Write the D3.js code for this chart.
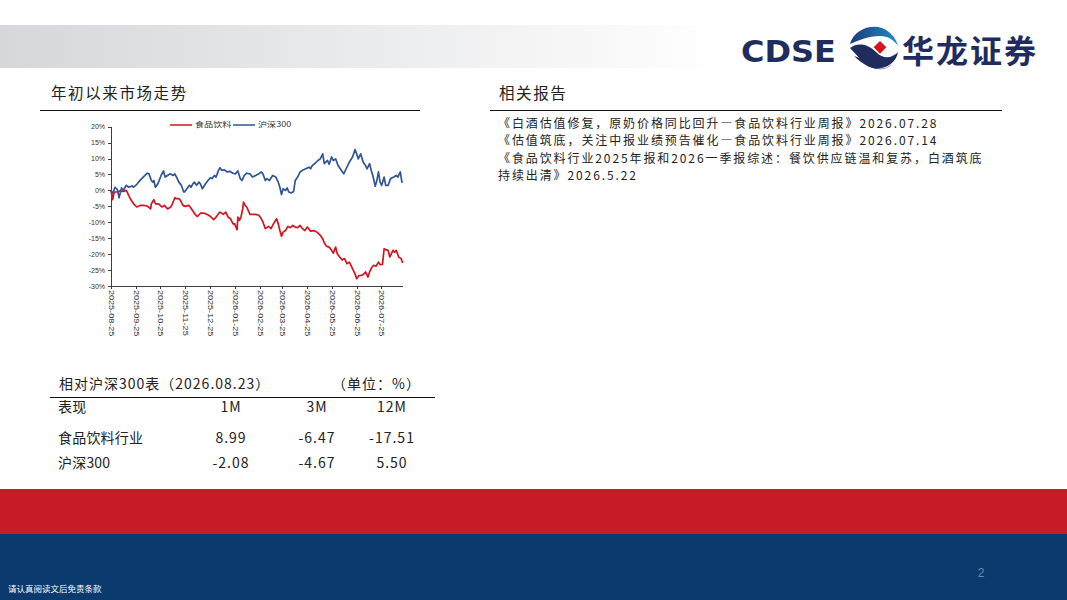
<!DOCTYPE html>
<html lang="zh">
<head>
<meta charset="utf-8">
<title>食品饮料行业 市场走势</title>
<style>
  body { margin: 0; background: #fff; }
  svg { display: block; font-family: "Noto Sans CJK SC", "Noto Sans", sans-serif; }
  .axis path, .axis line { stroke: #404040; stroke-width: 1; shape-rendering: crispEdges; }
  .axis text { fill: #333; font-family: "Liberation Sans", Arial, sans-serif; font-size: 7px; }
  .series { fill: none; stroke-width: 1.7; stroke-linejoin: round; }
</style>
</head>
<body>
<div id="page"></div>
<script src="https://d3js.org/d3.v7.min.js"></script>
<script>
// ---- data ----
var xTickDates = ["2025-08-25","2025-09-25","2025-10-25","2025-11-25","2025-12-25","2026-01-25",
                  "2026-02-25","2026-03-25","2026-04-25","2026-05-25","2026-06-25","2026-07-25"];
var yTicks = [20, 15, 10, 5, 0, -5, -10, -15, -20, -25, -30];
var seriesNames = ["食品饮料", "沪深300"];
var seriesColors = ["#d7141e", "#2f5597"];

// 食品饮料 relative performance (%)
var food = [
  ["2025-08-25",0],["2025-08-27",-2.9],["2025-08-29",-0.5],["2025-09-01",-0.5],["2025-09-05",-0.2],
  ["2025-09-09",-0.3],["2025-09-13",0],["2025-09-16",-1.6],["2025-09-19",-3.1],["2025-09-22",-4.2],
  ["2025-09-26",-5.2],["2025-09-30",-4.7],["2025-10-04",-4.7],["2025-10-09",-4.9],["2025-10-13",-5.8],
  ["2025-10-14",-4.2],["2025-10-17",-2.9],["2025-10-19",-4.2],["2025-10-23",-4.2],["2025-10-27",-5.2],
  ["2025-10-30",-4.7],["2025-11-03",-5.8],["2025-11-07",-5.2],["2025-11-09",-4.2],["2025-11-12",-2.3],
  ["2025-11-14",-2.6],["2025-11-17",-2.6],["2025-11-19",-3.1],["2025-11-22",-4.7],["2025-11-25",-5.0],
  ["2025-11-29",-4.7],["2025-12-01",-5.2],["2025-12-04",-6.3],["2025-12-07",-7.5],["2025-12-10",-8.2],
  ["2025-12-14",-7.1],["2025-12-17",-7.1],["2025-12-20",-7.3],["2025-12-24",-7.8],["2025-12-27",-8.4],
  ["2025-12-30",-9.2],["2026-01-02",-8.4],["2026-01-05",-7.3],["2026-01-07",-6.8],["2026-01-11",-7.5],
  ["2026-01-14",-6.8],["2026-01-17",-8.4],["2026-01-20",-8.9],["2026-01-23",-10.5],["2026-01-25",-10.5],
  ["2026-01-28",-12.3],["2026-01-29",-8.4],["2026-01-31",-9.4],["2026-02-02",-8.2],["2026-02-04",-5.8],
  ["2026-02-05",-3.7],["2026-02-07",-4.7],["2026-02-09",-5.2],["2026-02-13",-7.5],["2026-02-16",-7.5],
  ["2026-02-20",-7.5],["2026-02-24",-7.8],["2026-02-27",-8.9],["2026-03-01",-9.9],["2026-03-04",-12.0],
  ["2026-03-08",-11.3],["2026-03-11",-12.0],["2026-03-14",-10.5],["2026-03-18",-8.9],["2026-03-20",-10.5],
  ["2026-03-22",-12.6],["2026-03-24",-14.4],["2026-03-26",-13.1],["2026-03-29",-12.6],["2026-04-01",-11.3],
  ["2026-04-04",-11.7],["2026-04-07",-11.0],["2026-04-10",-11.5],["2026-04-13",-11.7],["2026-04-16",-11.0],
  ["2026-04-19",-12.0],["2026-04-22",-12.6],["2026-04-25",-11.5],["2026-04-29",-12.8],["2026-05-03",-12.6],
  ["2026-05-07",-13.1],["2026-05-11",-14.1],["2026-05-14",-15.2],["2026-05-16",-16.5],["2026-05-19",-17.6],
  ["2026-05-22",-17.8],["2026-05-25",-18.8],["2026-05-27",-19.7],["2026-05-30",-17.8],["2026-06-01",-19.9],
  ["2026-06-04",-20.9],["2026-06-07",-21.8],["2026-06-10",-21.4],["2026-06-13",-23.0],["2026-06-16",-22.5],
  ["2026-06-19",-24.1],["2026-06-23",-26.2],["2026-06-25",-27.7],["2026-06-28",-26.7],["2026-07-01",-26.7],
  ["2026-07-04",-26.2],["2026-07-06",-25.6],["2026-07-09",-27.2],["2026-07-11",-25.6],["2026-07-14",-24.1],
  ["2026-07-16",-23.5],["2026-07-19",-23.8],["2026-07-22",-22.5],["2026-07-24",-23.3],["2026-07-27",-23.2],
  ["2026-07-29",-18.3],["2026-07-31",-18.6],["2026-08-03",-18.8],["2026-08-05",-20.9],["2026-08-09",-18.8],
  ["2026-08-11",-19.4],["2026-08-13",-18.8],["2026-08-16",-20.9],["2026-08-19",-21.4],["2026-08-21",-22.8]
];

// 沪深300 (%)
var hs300 = [
  ["2025-08-25",0],["2025-08-27",-1.0],["2025-08-30",1.0],["2025-09-02",0.2],["2025-09-04",-2.3],
  ["2025-09-07",0.8],["2025-09-09",0],["2025-09-13",1.6],["2025-09-16",1.0],["2025-09-20",1.4],
  ["2025-09-22",1.0],["2025-09-26",1.9],["2025-09-28",2.6],["2025-10-02",3.7],["2025-10-06",4.7],
  ["2025-10-09",5.4],["2025-10-11",5.2],["2025-10-14",3.1],["2025-10-16",2.6],["2025-10-17",3.1],
  ["2025-10-19",1.0],["2025-10-22",2.1],["2025-10-26",4.7],["2025-10-29",6.1],["2025-10-31",4.2],
  ["2025-11-03",4.7],["2025-11-06",5.2],["2025-11-10",4.7],["2025-11-12",5.2],["2025-11-15",3.7],
  ["2025-11-17",2.6],["2025-11-20",1.6],["2025-11-23",-0.5],["2025-11-24",-0.5],["2025-11-27",0.5],
  ["2025-11-30",1.6],["2025-12-02",1.0],["2025-12-04",1.9],["2025-12-06",2.6],["2025-12-09",1.6],
  ["2025-12-12",2.6],["2025-12-14",1.9],["2025-12-16",0.5],["2025-12-20",2.1],["2025-12-23",3.1],
  ["2025-12-26",4.0],["2025-12-28",3.7],["2025-12-31",4.7],["2026-01-02",4.2],["2026-01-05",6.3],
  ["2026-01-07",7.1],["2026-01-09",6.3],["2026-01-12",6.5],["2026-01-16",5.8],["2026-01-19",6.0],
  ["2026-01-23",5.4],["2026-01-26",5.2],["2026-01-29",6.1],["2026-02-01",3.7],["2026-02-03",3.1],
  ["2026-02-06",4.7],["2026-02-09",5.4],["2026-02-13",5.2],["2026-02-16",4.2],["2026-02-20",4.7],
  ["2026-02-24",5.2],["2026-02-27",5.8],["2026-03-01",5.2],["2026-03-04",3.1],["2026-03-06",3.7],
  ["2026-03-09",3.1],["2026-03-13",4.7],["2026-03-17",4.2],["2026-03-20",2.6],["2026-03-22",1.0],
  ["2026-03-24",-1.3],["2026-03-26",0.5],["2026-03-29",0],["2026-03-31",0.8],["2026-04-02",-0.5],
  ["2026-04-05",-0.8],["2026-04-08",-0.3],["2026-04-10",3.1],["2026-04-13",4.2],["2026-04-16",5.8],
  ["2026-04-19",6.3],["2026-04-23",6.8],["2026-04-27",7.3],["2026-04-29",6.8],["2026-05-01",7.8],
  ["2026-05-05",8.6],["2026-05-08",9.4],["2026-05-11",9.9],["2026-05-14",11.5],["2026-05-16",8.4],
  ["2026-05-20",9.4],["2026-05-22",8.2],["2026-05-25",10.5],["2026-05-27",9.4],["2026-05-30",9.9],
  ["2026-06-02",7.8],["2026-06-09",5.2],["2026-06-12",6.8],["2026-06-16",8.9],["2026-06-20",10.5],
  ["2026-06-23",12.8],["2026-06-25",11.5],["2026-06-27",9.9],["2026-06-30",11.5],["2026-07-03",8.9],
  ["2026-07-06",7.8],["2026-07-08",6.8],["2026-07-11",8.4],["2026-07-13",6.3],["2026-07-15",4.7],
  ["2026-07-18",1.3],["2026-07-20",3.1],["2026-07-22",5.8],["2026-07-24",2.6],["2026-07-26",1.6],
  ["2026-07-29",4.2],["2026-07-31",1.6],["2026-08-03",1.6],["2026-08-06",3.7],["2026-08-10",4.2],
  ["2026-08-13",4.7],["2026-08-15",4.2],["2026-08-18",5.8],["2026-08-20",2.6],["2026-08-21",2.9]
];

// 相对沪深300表
var tableTitle = "相对沪深300表（2026.08.23）";
var tableUnit = "（单位：%）";
var tableHeader = ["表现", "1M", "3M", "12M"];
var tableRows = [
  ["食品饮料行业", "8.99", "-6.47", "-17.51"],
  ["沪深300", "-2.08", "-4.67", "5.50"]
];

// 相关报告
var reportLines = [
  "《白酒估值修复，原奶价格同比回升—食品饮料行业周报》2026.07.28",
  "《估值筑底，关注中报业绩预告催化—食品饮料行业周报》2026.07.14",
  "《食品饮料行业2025年报和2026一季报综述：餐饮供应链温和复苏，白酒筑底",
  "持续出清》2026.5.22"
];

// ---- page ----
var W = 1067, H = 600;
var parse = d3.timeParse("%Y-%m-%d");

var svg = d3.select("#page").append("svg")
  .attr("width", W).attr("height", H);

var defs = svg.append("defs");
var grad = defs.append("linearGradient").attr("id", "hdr").attr("x1", 0).attr("x2", 1).attr("y1", 0).attr("y2", 0);
grad.append("stop").attr("offset", "0%").attr("stop-color", "#d6d7da");
grad.append("stop").attr("offset", "68%").attr("stop-color", "#ffffff");
grad.append("stop").attr("offset", "100%").attr("stop-color", "#ffffff");

var swG = defs.append("linearGradient").attr("id", "sw").attr("x1", 0).attr("x2", 1).attr("y1", 0).attr("y2", 0);
swG.append("stop").attr("offset", "0%").attr("stop-color", "#1d3a7a");
swG.append("stop").attr("offset", "100%").attr("stop-color", "#1f8cc4");

// header band
svg.append("rect").attr("x", 0).attr("y", 25).attr("width", W).attr("height", 43).attr("fill", "url(#hdr)");

// logo
svg.append("text").attr("x", 741).attr("y", 62)
  .attr("font-family", "'DejaVu Sans', sans-serif").attr("font-weight", "bold")
  .attr("font-size", 30).attr("fill", "#1f2c5e").attr("textLength", 95)
  .attr("lengthAdjust", "spacingAndGlyphs")
  .text("CDSE");
var logo = svg.append("g").attr("transform", "translate(874,48)");
logo.append("path")
  .attr("d", "M-24,-4 C-20,-18 -4,-24 8,-20 C16,-17 22,-10 24,-2 C20,-8 14,-12 6,-12 C-6,-12 -14,-8 -24,-4 Z")
  .attr("fill", "url(#sw)");
logo.append("path")
  .attr("d", "M-24,0 C-16,-6 -6,-4 2,4 C10,12 18,10 24,4 C22,16 10,22 0,20 C-10,18 -14,10 -24,0 Z")
  .attr("fill", "#1f2c5e");
logo.append("path")
  .attr("d", "M-20,8 C-12,10 -6,16 2,20 C8,22 14,20 18,16 C12,24 -4,24 -20,8 Z")
  .attr("fill", "#1f2c5e");
logo.append("rect").attr("x", -5).attr("y", -5).attr("width", 9).attr("height", 9)
  .attr("transform", "translate(6,0) rotate(45)").attr("fill", "#d7141e");
svg.append("text").attr("x", 902).attr("y", 63)
  .attr("font-weight", "bold").attr("font-size", 32).attr("fill", "#1f2c5e")
  .attr("textLength", 134)
  .text("华龙证券");

// section headings
svg.append("text").attr("x", 51).attr("y", 99).attr("font-size", 15.5).attr("letter-spacing", 1.6)
  .attr("fill", "#222").text("年初以来市场走势");
svg.append("line").attr("x1", 40).attr("x2", 420).attr("y1", 110.5).attr("y2", 110.5)
  .attr("stroke", "#111").attr("stroke-width", 1);
svg.append("text").attr("x", 499).attr("y", 99).attr("font-size", 15.5).attr("letter-spacing", 1.6)
  .attr("fill", "#222").text("相关报告");
svg.append("line").attr("x1", 490).attr("x2", 1002).attr("y1", 110.5).attr("y2", 110.5)
  .attr("stroke", "#111").attr("stroke-width", 1);

// related reports (12px keeps the 17.4px rows from touching)
svg.append("g").selectAll("text").data(reportLines).join("text")
  .attr("x", 498)
  .attr("y", function(d, i) { return 128 + i * 17.4; })
  .attr("font-size", 12).attr("letter-spacing", 1.9).attr("fill", "#222")
  .text(function(d) { return d; });

// ---- chart ----
var x = d3.scaleTime()
  .domain([parse(food[0][0]), parse(food[food.length - 1][0])])
  .range([111, 402.7]);
var y = d3.scaleLinear().domain([-30, 20]).range([286, 126.7]);

var gx = svg.append("g").attr("class", "axis")
  .attr("transform", "translate(0," + y(-30) + ")")
  .call(d3.axisBottom(x).tickValues(xTickDates.map(parse)).tickSize(3).tickSizeOuter(0)
    .tickFormat(d3.timeFormat("%Y-%m-%d")));
gx.selectAll("text")
  .attr("transform", "rotate(90) scale(1.3,1)")
  .attr("x", 3).attr("y", 0).attr("dy", "0.35em")
  .attr("text-anchor", "start");

svg.append("g").attr("class", "axis")
  .attr("transform", "translate(" + x.range()[0] + ",0)")
  .call(d3.axisLeft(y).tickValues(yTicks).tickSize(3).tickSizeOuter(0)
    .tickFormat(function(d) { return d + "%"; }));

var line = d3.line()
  .x(function(d) { return x(parse(d[0])); })
  .y(function(d) { return y(d[1]); });

[food, hs300].forEach(function(s, i) {
  svg.append("path").datum(s)
    .attr("class", "series")
    .attr("stroke", seriesColors[i])
    .attr("d", line);
});

// legend
var legendX = [170, 233];
var lg = svg.append("g").attr("transform", "translate(0,125)");
seriesNames.forEach(function(n, i) {
  lg.append("line").attr("x1", legendX[i]).attr("x2", legendX[i] + 22)
    .attr("stroke", seriesColors[i]).attr("stroke-width", 1.5);
  lg.append("text")
    .attr("transform", "translate(" + (legendX[i] + 25) + ",0) scale(1.3,1)")
    .attr("dy", "0.35em")
    .attr("font-size", 7).attr("fill", "#333").text(n);
});

// ---- table ----
svg.append("text").attr("x", 59).attr("y", 389).attr("font-size", 14).attr("letter-spacing", 1)
  .attr("fill", "#222").text(tableTitle);
svg.append("text").attr("x", 421).attr("y", 389).attr("font-size", 14).attr("letter-spacing", 1)
  .attr("fill", "#222").attr("text-anchor", "end").text(tableUnit);
svg.append("line").attr("x1", 50).attr("x2", 435).attr("y1", 397.5).attr("y2", 397.5)
  .attr("stroke", "#111").attr("stroke-width", 1);

var colX = [58, 231, 317, 392];
var rowY = [412, 443, 468];
[tableHeader].concat(tableRows).forEach(function(r, ri) {
  r.forEach(function(c, ci) {
    svg.append("text")
      .attr("x", colX[ci]).attr("y", rowY[ri])
      .attr("text-anchor", ci === 0 ? "start" : "middle")
      .attr("font-size", 14).attr("letter-spacing", ci === 0 ? 0.2 : 1)
      .attr("fill", "#222")
      .text(c);
  });
});

// ---- footer ----
svg.append("rect").attr("x", 0).attr("y", 489).attr("width", W).attr("height", 46).attr("fill", "#c91b26");
svg.append("rect").attr("x", 0).attr("y", 534).attr("width", W).attr("height", 66).attr("fill", "#0b3a6f");
svg.append("text").attr("x", 981).attr("y", 577).attr("font-size", 12)
  .attr("font-family", "'Liberation Sans', Arial, sans-serif")
  .attr("fill", "#6f86a8").attr("text-anchor", "middle").text("2");
svg.append("text").attr("x", 8).attr("y", 592).attr("font-size", 8.5).attr("fill", "#fff")
  .text("请认真阅读文后免责条款");
</script>
</body>
</html>
